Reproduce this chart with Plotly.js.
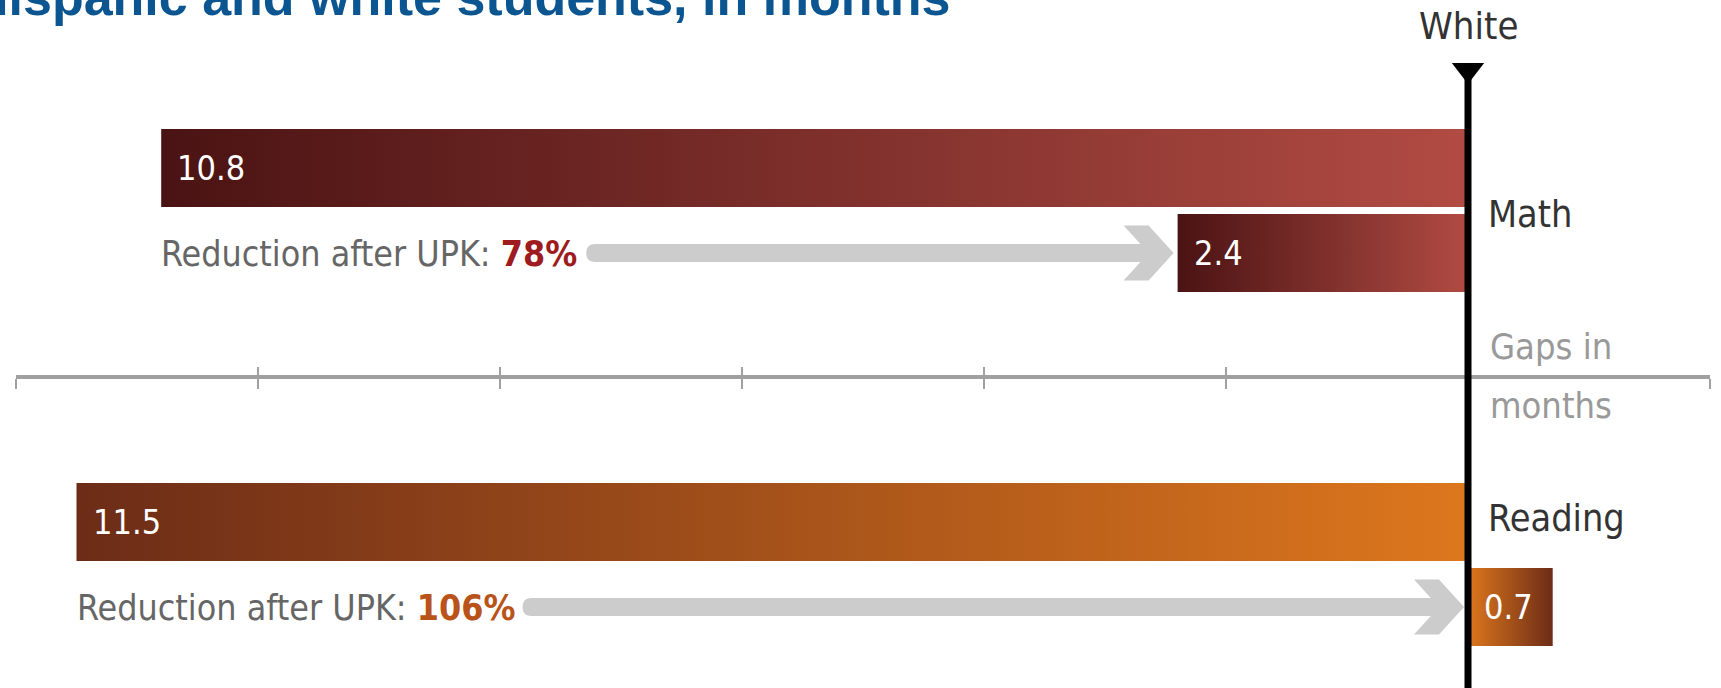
<!DOCTYPE html>
<html>
<head>
<meta charset="utf-8">
<script src="https://cdn.plot.ly/plotly-3.0.1.min.js"></script>
<style>
  html, body { margin: 0; padding: 0; background: #ffffff; }
  #chart { width: 1721px; height: 688px; }
</style>
</head>
<body>
<div id="chart"></div>
<script>
// ---------------- DATA ----------------
const subjects = ["Math", "Reading"];
// Gap of Hispanic vs. White students, in months (negative = behind White)
const gapBeforeUPK = [-10.8, -11.5];
const gapAfterUPK = [-2.4, 0.7];
const reductionPct = [78, 106];
const axisTickVals = [-12, -10, -8, -6, -4, -2, 0, 2];
const referenceGroup = "White";
const axisNote = ["Gaps in", "months"];
const titleText = "Hispanic and white students, in months";

// ---------------- STYLE / LAYOUT CONSTANTS ----------------
const W = 1721, H = 688;
const ML = 16, MR = 11;
const xRange = [-12, 2];
const pxPerUnit = (W - ML - MR) / (xRange[1] - xRange[0]);
const u = 1 / pxPerUnit;               // one pixel in x data units
const groupTop = [129, 483];            // top pixel of each subject group
const barH = 78, barGap = 7;
const axisY = 377;

const FONT = '"DejaVu Sans Condensed", "Liberation Sans Narrow", sans-serif';
const darkCol = ["#4a1313", "#6c2c17"];
const lightCol = ["#b14b43", "#dd771d"];
const pctCol = ["#9e1b20", "#b9531a"];
const arrowCol = "#cccccc";
const labelWidthPx = [425, 446];        // width of "Reduction after UPK: xx%" + gap

const traces = [];
const annotations = [];
const shapes = [];

function barTrace(v, yTop, gi) {
  const x0 = Math.min(0, v), x1 = Math.max(0, v);
  const cs = v < 0 ? [[0, darkCol[gi]], [1, lightCol[gi]]] : [[0, lightCol[gi]], [1, darkCol[gi]]];
  return {
    type: "scatter", mode: "lines",
    x: [x0, x1, x1, x0, x0],
    y: [yTop, yTop, yTop + barH, yTop + barH, yTop],
    fill: "toself",
    fillcolor: lightCol[gi],
    fillgradient: { type: "horizontal", colorscale: cs },
    line: { width: 0, color: "rgba(0,0,0,0)" },
    hoverinfo: "skip", showlegend: false, xaxis: "x", yaxis: "y"
  };
}

function arrowPath(tailX, tipX, yc) {
  const hl = 50 * u, ct = 25 * u, hh = 27.5, st = 9;
  const inner = (50 - 25 * (hh - st) / hh) * u;
  const r = 9 * u;
  return `M${tailX + r},${yc - st} L${tipX - inner},${yc - st} L${tipX - hl},${yc - hh} ` +
         `L${tipX - ct},${yc - hh} L${tipX},${yc} L${tipX - ct},${yc + hh} L${tipX - hl},${yc + hh} ` +
         `L${tipX - inner},${yc + st} L${tailX + r},${yc + st} Q${tailX},${yc + st} ${tailX},${yc} ` +
         `Q${tailX},${yc - st} ${tailX + r},${yc - st} Z`;
}

subjects.forEach((s, gi) => {
  const topB = groupTop[gi];
  const topA = groupTop[gi] + barH + barGap;
  traces.push(barTrace(gapBeforeUPK[gi], topB, gi));
  traces.push(barTrace(gapAfterUPK[gi], topA, gi));

  // value labels inside bars
  [[gapBeforeUPK[gi], topB], [gapAfterUPK[gi], topA]].forEach(([v, t]) => {
    annotations.push({
      x: Math.min(0, v), y: t + barH / 2, xref: "x", yref: "y",
      xanchor: "left", yanchor: "middle", xshift: 14,
      text: Math.abs(v).toFixed(1), showarrow: false,
      font: { family: FONT, size: 34, color: "#ffffff" }
    });
  });

  // reduction label
  annotations.push({
    x: gapBeforeUPK[gi], y: topA + barH / 2, xref: "x", yref: "y",
    xanchor: "left", yanchor: "middle", xshift: -2,
    text: `Reduction after UPK: <b><span style="color:${pctCol[gi]}">${reductionPct[gi]}%</span></b>`,
    showarrow: false,
    font: { family: FONT, size: 35.5, color: "#666666" }
  });

  // arrow from label to after bar
  const tail = gapBeforeUPK[gi] + labelWidthPx[gi] * u;
  const tip = Math.min(0, gapAfterUPK[gi]) - 4 * u;
  shapes.push({
    type: "path", xref: "x", yref: "y", layer: "below",
    path: arrowPath(tail, tip, topA + barH / 2),
    fillcolor: arrowCol, line: { width: 0 }
  });

  // subject label right of zero line
  annotations.push({
    x: 0, y: gi === 0 ? topA : topB + barH / 2 - 4, xref: "x", yref: "y",
    xanchor: "left", yanchor: "middle", xshift: 18,
    text: s, showarrow: false,
    font: { family: FONT, size: 37.5, color: "#333333" }
  });
});

// zero (White) reference line
shapes.push({
  type: "line", xref: "x", yref: "y", x0: 0, x1: 0, y0: 66, y1: H,
  line: { color: "#000000", width: 7 }, layer: "above"
});
// triangle marker for White
traces.push({
  type: "scatter", mode: "markers", x: [0], y: [70],
  marker: { symbol: "triangle-down", size: 28, color: "#000000" },
  hoverinfo: "skip", showlegend: false, cliponaxis: false
});
annotations.push({
  x: 0, y: 26, xref: "x", yref: "y", xanchor: "center", yanchor: "middle",
  text: referenceGroup, showarrow: false,
  font: { family: FONT, size: 38, color: "#333333" }
});
// axis note
annotations.push({
  x: 0, y: 346, xref: "x", yref: "y", xanchor: "left", yanchor: "middle", xshift: 20,
  text: axisNote[0], showarrow: false, font: { family: FONT, size: 36, color: "#999999" }
});
annotations.push({
  x: 0, y: 405, xref: "x", yref: "y", xanchor: "left", yanchor: "middle", xshift: 20,
  text: axisNote[1], showarrow: false, font: { family: FONT, size: 36, color: "#999999" }
});
// title (mostly cropped at top, as in the reference)
annotations.push({
  x: 0, y: 28, xref: "paper", yref: "y", xanchor: "left", yanchor: "bottom", xshift: -47,
  text: "<b>" + titleText + "</b>", showarrow: false,
  font: { family: '"Liberation Sans", Arial, sans-serif', size: 52, color: "#0b5590" }
});

const axisCommon = {
  range: xRange, anchor: "free", position: 1 - axisY / H,
  tickmode: "array", tickvals: axisTickVals, showticklabels: false,
  showgrid: false, zeroline: false, fixedrange: true,
  tickcolor: "#a0a0a0", tickwidth: 2, ticklen: 10
};

const layout = {
  width: W, height: H,
  margin: { l: ML, r: MR, t: 0, b: 0, pad: 0 },
  paper_bgcolor: "#ffffff", plot_bgcolor: "#ffffff",
  showlegend: false,
  xaxis: Object.assign({}, axisCommon, { showline: true, linecolor: "#a0a0a0", linewidth: 4, ticks: "outside" }),
  xaxis2: Object.assign({}, axisCommon, { overlaying: "x", showline: false, ticks: "inside" }),
  yaxis: { range: [H, 0], visible: false, showgrid: false, zeroline: false, fixedrange: true },
  shapes: shapes,
  annotations: annotations
};

// invisible helper trace so that the second (upper-tick) axis is drawn
traces.push({ type: "scatter", mode: "markers", x: [xRange[0]], y: [-100], xaxis: "x2", yaxis: "y",
  marker: { opacity: 0 }, hoverinfo: "skip", showlegend: false });

Plotly.newPlot("chart", traces, layout, { displayModeBar: false, staticPlot: true });
</script>
</body>
</html>
